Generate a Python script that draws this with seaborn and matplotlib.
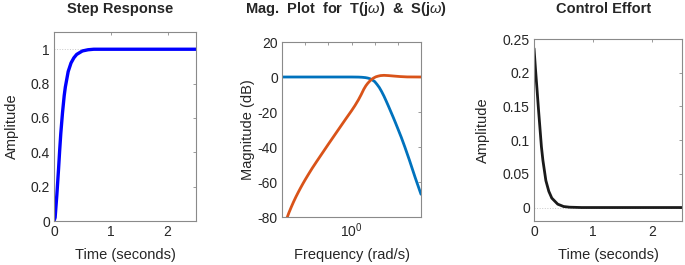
import matplotlib
matplotlib.use("Agg")
import matplotlib.pyplot as plt
import numpy as np
import pandas as pd
import seaborn as sns

#%% Data
# Step response
step_t = [0, 0.02, 0.05, 0.08, 0.1, 0.12, 0.15, 0.18, 0.2, 0.25, 0.3, 0.35, 0.4,
          0.5, 0.6, 0.7, 0.8, 1.0, 1.5, 2.0, 2.5]
step_y = [0, 0.02, 0.15, 0.3, 0.41, 0.51, 0.63, 0.73, 0.78, 0.87, 0.92, 0.95, 0.97,
          0.99, 0.997, 1.0, 1.0, 1.0, 1.0, 1.0, 1.0]

# Magnitude of T(jw)
T_freq = [0.001, 1, 1.995, 2.818, 3.981, 5.012, 6.31, 7.943, 10, 12.59, 15.85,
          19.95, 25.12, 31.62, 39.81, 50.12, 63.1, 79.43, 100, 141.3, 199.5,
          316.2, 562.3, 1000]
T_mag = [0, 0, -0.05, -0.15, -0.35, -0.6, -1.0, -1.7, -2.6, -4.2, -6.0,
         -8.3, -10.9, -13.8, -16.8, -19.9, -23.0, -26.2, -29.5, -34.5, -39.9,
         -47.5, -57.5, -67]

# Magnitude of S(jw)
S_freq = [0.001413, 0.001698, 0.001995, 0.002512, 0.003162, 0.003981, 0.005012,
          0.00631, 0.007943, 0.01, 0.01413, 0.01995, 0.03162, 0.05623, 0.1,
          0.1778, 0.3162, 0.5623, 1, 1.413, 1.995, 2.63, 3.388, 4.169, 5.012,
          6.607, 8.913, 11.22, 14.13, 17.78, 25.12, 39.81, 66.07, 125.9, 251.2, 1000]
S_mag = [-83, -80, -77.5, -74.3, -71.3, -68.5, -65.9,
         -63.4, -61.0, -58.7, -55.4, -52.2, -48.2, -43.3, -38.4,
         -33.6, -28.8, -24.0, -19.3, -16.3, -13.0, -10.0, -7.0, -5.0, -3.6,
         -1.9, -0.6, 0.1, 0.5, 0.8, 0.95, 0.8, 0.55, 0.25, 0.05, 0]

# Control effort
u_t = [0, 0.025, 0.05, 0.075, 0.1, 0.125, 0.15, 0.2, 0.25, 0.3, 0.4, 0.5, 0.6,
       0.8, 1.0, 2.5]
u_y = [0.236, 0.205, 0.176, 0.146, 0.118, 0.090, 0.070, 0.040, 0.024, 0.014,
       0.005, 0.0015, 0.0005, 0, 0, 0]

freq_ticks = [1e-3, 1e-2, 1e-1, 1e0, 1e1, 1e2, 1e3]
freq_ticklabels = ['', '', '', '$10^{0}$', '', '', '']

#%% Style
sns.set_style("white")
plt.rcParams['font.family'] = ['Liberation Sans', 'DejaVu Sans']
plt.rcParams['axes.unicode_minus'] = False
plt.rcParams['mathtext.fontset'] = 'custom'
plt.rcParams['mathtext.rm'] = 'Liberation Sans'
plt.rcParams['mathtext.it'] = 'Liberation Sans:italic'

spine_col = '#8a8a8a'
text_col = '#262626'
fs_tick = 10
fs_label = 10.5
fs_title = 10.5

fig = plt.figure(figsize=(6.85, 2.65), dpi=100)
ax1 = fig.add_axes([0.0788, 0.166, 0.2073, 0.713])
ax2 = fig.add_axes([0.4117, 0.1811, 0.2029, 0.6604])
ax3 = fig.add_axes([0.7796, 0.166, 0.2161, 0.6868])


def axessetting(ax):
    for s in ax.spines.values():
        s.set_color(spine_col)
        s.set_linewidth(0.8)
    ax.tick_params(direction='in', length=2.5, width=0.6, color=spine_col,
                   top=True, right=True, labelsize=fs_tick, labelcolor=text_col,
                   pad=3)
    ax.tick_params(which='minor', length=0)


#%% Step response
ax1.axhline(1, color='#c8c8c8', linewidth=0.7, linestyle=':')
sns.lineplot(x=step_t, y=step_y, ax=ax1, color='#0000ff', linewidth=2.4)
ax1.set_xlim(0, 2.5)
ax1.set_ylim(0, 1.1)
ax1.set_xticks([0, 1, 2])
ax1.set_yticks([0, 0.2, 0.4, 0.6, 0.8, 1])
ax1.set_yticklabels(['0', '0.2', '0.4', '0.6', '0.8', '1'])
ax1.set_xlabel('Time (seconds)', fontsize=fs_label, color=text_col, labelpad=6)
ax1.set_ylabel('Amplitude', fontsize=fs_label, color=text_col, labelpad=8.5)
axessetting(ax1)

#%% Bode magnitude
sns.lineplot(x=T_freq, y=T_mag, ax=ax2, color='#0072bd', linewidth=2.0)
sns.lineplot(x=S_freq, y=S_mag, ax=ax2, color='#d95319', linewidth=2.0)
ax2.set_xscale('log')
ax2.set_xlim(1e-3, 1e3)
ax2.set_ylim(-80, 20)
ax2.set_xticks(freq_ticks)
ax2.set_xticklabels(freq_ticklabels)
ax2.set_yticks([-80, -60, -40, -20, 0, 20])
ax2.set_xlabel('Frequency (rad/s)', fontsize=fs_label, color=text_col, labelpad=6)
ax2.set_ylabel('Magnitude (dB)', fontsize=fs_label, color=text_col, labelpad=2)
axessetting(ax2)

#%% Control effort
ax3.axhline(0, color='#c8c8c8', linewidth=0.7, linestyle=':')
sns.lineplot(x=u_t, y=u_y, ax=ax3, color='#1a1a1a', linewidth=2.0)
ax3.set_xlim(0, 2.5)
ax3.set_ylim(-0.02, 0.25)
ax3.set_xticks([0, 1, 2])
ax3.set_yticks([0, 0.05, 0.1, 0.15, 0.2, 0.25])
ax3.set_yticklabels(['0', '0.05', '0.1', '0.15', '0.2', '0.25'])
ax3.set_xlabel('Time (seconds)', fontsize=fs_label, color=text_col, labelpad=6)
ax3.set_ylabel('Amplitude', fontsize=fs_label, color=text_col, labelpad=9.5)
axessetting(ax3)

#%% Titles (placed in figure pixels, as in the reference)
W, H = 685, 265
fig.text(120 / W, 1 - 9 / H, 'Step Response', ha='center', va='center',
         fontsize=fs_title, fontweight='bold', color=text_col)
fig.text(346 / W, 1 - 9 / H, r'Mag.  Plot  for  T(j$\omega$)  &  S(j$\omega$)',
         ha='center', va='center', fontsize=fs_title, fontweight='bold', color=text_col)
fig.text(604 / W, 1 - 9 / H, 'Control Effort', ha='center', va='center',
         fontsize=fs_title, fontweight='bold', color=text_col)

fig.savefig('out.png', dpi=100)
